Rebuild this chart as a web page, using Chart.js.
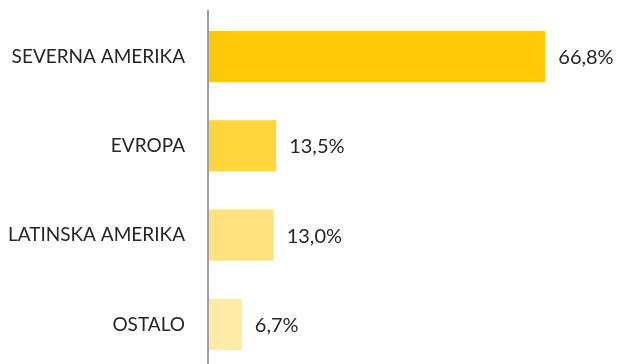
<!DOCTYPE html>
<html>
<head>
<meta charset="utf-8">
<script src="https://cdn.jsdelivr.net/npm/chart.js@4"></script>
<style>
  html, body { margin: 0; padding: 0; background: #fff; overflow: hidden; width: 619px; height: 364px; }
  canvas { display: block; }
</style>
</head>
<body>
<canvas id="c" width="619" height="372"></canvas>
<script>
const regions = ['SEVERNA AMERIKA', 'EVROPA', 'LATINSKA AMERIKA', 'OSTALO'];
const shares = [66.8, 13.5, 13.0, 6.7];
const barColors = ['#FFC907', '#FFD53C', '#FFE17E', '#FFEBA8'];

const FONT = 'Lato, "Open Sans", sans-serif';

// value labels to the right of each bar, plus the vertical axis line
const barLabels = {
  id: 'barLabels',
  afterDatasetsDraw(chart) {
    const ctx = chart.ctx;
    const meta = chart.getDatasetMeta(0);
    ctx.save();
    ctx.font = '20px ' + FONT;
    ctx.fillStyle = '#262626';
    ctx.textAlign = 'left';
    ctx.textBaseline = 'middle';
    meta.data.forEach((bar, i) => {
      const txt = shares[i].toFixed(1).replace('.', ',') + '%';
      ctx.fillText(txt, bar.x + 13, bar.y + 1);
    });
    const x = chart.chartArea.left;
    ctx.strokeStyle = '#9E9E9E';
    ctx.lineWidth = 2;
    ctx.beginPath();
    ctx.moveTo(x, 10);
    ctx.lineTo(x, chart.height);
    ctx.stroke();
    ctx.restore();
  }
};

new Chart(document.getElementById('c'), {
  type: 'bar',
  data: {
    labels: regions,
    datasets: [{
      data: shares,
      backgroundColor: barColors,
      borderWidth: 0,
      categoryPercentage: 0.572,
      barPercentage: 1
    }]
  },
  options: {
    indexAxis: 'y',
    responsive: false,
    animation: false,
    layout: { padding: { top: 12, right: 0, bottom: 3, left: 0 } },
    plugins: { legend: { display: false }, tooltip: { enabled: false } },
    scales: {
      x: { display: false, min: 0, max: 81.4 },
      y: {
        grid: { display: false, drawTicks: false },
        border: { display: false },
        afterFit(scale) {
          scale.width = 208;
          scale.paddingTop = 0;
          scale.paddingBottom = 0;
        },
        ticks: {
          padding: 23,
          color: '#262626',
          font: { family: FONT, size: 19 }
        }
      }
    }
  },
  plugins: [barLabels]
});
</script>
</body>
</html>
